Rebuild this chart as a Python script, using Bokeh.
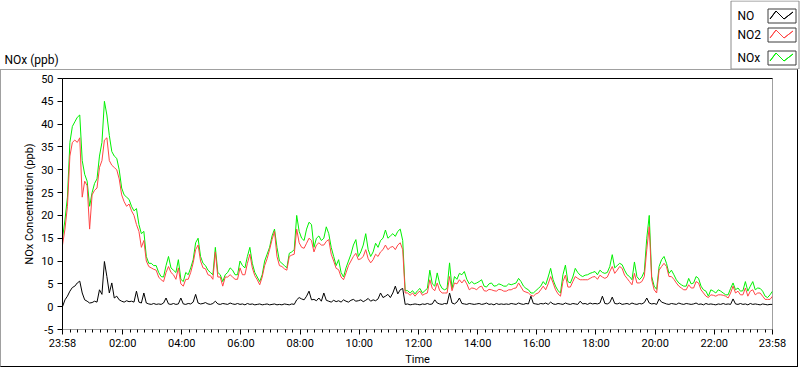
from bokeh.plotting import figure
from bokeh.layouts import column
from bokeh.models import (FixedTicker, Label, PolyAnnotation, LinearAxis, Range1d)
from bokeh.embed import file_html
from bokeh.resources import INLINE

# ---------------- data (5-minute samples starting 23:58) ----------------
start_clock = "23:58"
step_min = 5

nox = [
    15, 19, 24, 36, 39.5, 40.5, 41.5, 42, 32, 29, 27.5, 22,
    25, 27, 28, 33, 36, 45, 42, 37.5, 34, 33, 32.5, 30,
    26, 24.5, 24, 23.5, 22, 21, 21.5, 18, 16, 16.5, 11, 9.5,
    9.5, 9, 9, 7.5, 6.6, 6.5, 9, 11, 8.5, 8, 7.5, 10.3,
    6, 5.5, 7.5, 7, 8.5, 10.3, 14, 15, 11, 9.5, 9, 8,
    7.5, 7, 13, 7.5, 7, 5.5, 7, 7.5, 8.5, 8, 7, 7,
    10, 9, 8.5, 11, 13, 9.5, 7.5, 6.5, 5.5, 7, 10, 11.5,
    13, 15.5, 17, 13, 10, 9.5, 9, 8.5, 11.7, 12, 12.5, 20,
    16.5, 15, 14.5, 17, 18.5, 18, 13, 15, 15.5, 14.5, 15, 17.5,
    16, 13, 11, 9, 10.3, 7.5, 6.5, 8.5, 10, 11.5, 13.5, 14.7,
    11, 12, 13.5, 16, 12.5, 11, 12, 13.9, 13, 14.5, 15, 16.8,
    15, 15.5, 16, 15.4, 16.5, 17, 14.5, 3.5, 3.5, 3, 3.5, 2.8,
    3.5, 4, 3, 3.5, 4, 8, 5, 4.5, 7.4, 5, 4, 3.7,
    4, 9.6, 4, 6.6, 6, 7.3, 7, 7.7, 6, 5, 5.5, 5,
    5.2, 5.5, 5.9, 4.5, 4.3, 5, 5.2, 4.5, 4.6, 5, 4.8, 4.5,
    4.5, 5, 4.8, 5, 5.2, 6.2, 5.5, 4.5, 4, 3.7, 3, 3,
    3.5, 4, 4.5, 5.5, 4.8, 6.5, 8.4, 5.9, 4.5, 3.5, 3, 7,
    9.1, 5.5, 5.2, 6.5, 8.4, 7.5, 6.9, 6.6, 6.9, 7, 7.3, 7.5,
    7.7, 7, 8, 7.5, 7.3, 7.5, 8.8, 11.4, 8.5, 9, 9.5, 9.2,
    8, 7, 6.6, 5.9, 9.8, 6.6, 5.9, 6.5, 7.7, 15, 20, 6.6,
    4.5, 3.8, 8.8, 10.3, 11, 9.5, 7.3, 8, 7, 5.9, 5.2, 4.8,
    4.5, 4.5, 6.2, 5, 5.2, 6.6, 6.2, 4.5, 3.7, 3.4, 2.3, 3.7,
    3.4, 3, 3.7, 3.4, 3, 2.6, 2.6, 4, 5.2, 3.7, 4.1, 3.4,
    3.5, 5.5, 3.4, 4.5, 5.5, 3.7, 4.1, 4, 3.4, 2.3, 2, 2.6,
    3.4,
]

no2 = [
    13.5, 17, 22, 33, 36, 36.5, 36, 37, 24, 27.5, 26.5, 17,
    24.5, 25.5, 26, 30.5, 32, 36.5, 37, 32, 31, 30.5, 30, 28,
    24.5, 23, 22, 22.5, 21, 20, 18, 16.5, 13, 14.5, 10, 8.8,
    8.5, 8.2, 8, 6.5, 5.9, 5.5, 7.5, 8.8, 7.5, 7, 6, 8.5,
    5, 4.5, 6, 6, 7.5, 9.6, 12.5, 13.5, 10, 8.5, 8.3, 7,
    6.8, 6, 12, 6.5, 6.5, 4.5, 6.5, 6.5, 7, 6.5, 6, 6,
    8.5, 7, 7, 9.5, 11.5, 8.5, 6.8, 5.9, 4.8, 6.5, 9, 10.5,
    12.5, 14.7, 16.5, 11, 9, 8.8, 8.3, 8, 11, 11.3, 11.5, 17,
    14, 13, 12.8, 13.9, 15, 14.5, 12, 13.5, 14, 13.5, 13.5, 14.3,
    14.7, 11.5, 10, 8.4, 8.1, 6.5, 5.9, 7.4, 9, 10, 11, 11.7,
    10.3, 10.5, 11, 12.5, 10.5, 9.6, 10.3, 11.5, 11, 12, 12.5, 13.5,
    12.5, 13, 13.2, 12.5, 13.5, 14, 12.5, 3, 3, 2.5, 3, 2.3,
    3, 3.4, 2.5, 2.8, 3, 5.9, 4, 3.5, 5.2, 3.5, 3, 3,
    3, 6.6, 3.5, 5.2, 5, 5.9, 5.2, 5.9, 5, 3.7, 4.1, 4,
    3.7, 4.3, 4.5, 3.5, 3.4, 3.8, 3.7, 3.5, 3.4, 3.8, 3.7, 3.4,
    3.4, 3.7, 3.7, 4, 4.1, 5.2, 4.3, 3.4, 3.2, 3, 2.5, 2.3,
    2.8, 3, 3.7, 4.5, 3.7, 5, 6.6, 5.2, 3.7, 2.8, 2.3, 5.5,
    6.9, 4.3, 4.3, 5.5, 6.6, 6.2, 5.9, 5.9, 5.9, 5.9, 6.2, 6.5,
    6.6, 6, 6.9, 6.5, 6.2, 6.5, 7.7, 8.8, 7.3, 8, 8.8, 8.4,
    6.9, 6.2, 5.5, 4.8, 7.3, 5.2, 5.2, 5.5, 6.6, 12.5, 17.5, 5.9,
    3.7, 3, 8, 8.8, 9.5, 8.8, 6.6, 6.6, 6, 5.2, 4.5, 4.1,
    3.7, 3.7, 4.8, 4.1, 4.1, 5.5, 5.2, 3.7, 3, 2.3, 2, 2.6,
    2.5, 2.3, 2.6, 2.6, 2.5, 2.3, 1.9, 3, 4.5, 3, 3.4, 2.6,
    2.6, 4.1, 2.3, 3.4, 3.7, 2.6, 3, 3, 2.3, 1.6, 1.6, 1.6,
    2.3,
]

no = [
    0.0, 1.5, 2.3, 3.4, 4.2, 4.5, 5.2, 5.6, 3.0, 1.5, 1.2, 0.8,
    0.9, 1.2, 1.0, 3.7, 2.7, 9.9, 6.6, 3.0, 5.2, 1.9, 2.3, 1.5,
    1.2, 1.0, 1.3, 1.1, 1.2, 1.0, 3.4, 1.0, 0.8, 3.0, 0.8, 0.6,
    0.5, 0.7, 0.5, 0.6, 0.5, 0.8, 1.9, 0.6, 0.5, 0.7, 0.5, 0.6,
    1.9, 0.6, 0.5, 0.7, 0.6, 1.0, 2.7, 0.8, 0.6, 0.7, 0.9, 0.6,
    0.5, 0.7, 1.2, 0.6, 0.5, 0.7, 0.6, 0.5, 0.8, 0.6, 0.5, 0.7,
    0.5, 0.6, 0.4, 0.7, 0.5, 0.6, 0.4, 0.5, 0.6, 0.4, 0.5, 0.6,
    0.4, 0.5, 0.6, 0.4, 0.5, 0.4, 0.6, 0.5, 0.4, 0.6, 0.5, 1.5,
    2.0, 1.7, 1.5, 2.3, 3.4, 1.5, 1.6, 1.3, 1.9, 1.2, 3.0, 1.4,
    1.2, 1.0, 1.4, 1.1, 1.3, 1.0, 1.5, 1.2, 1.0, 1.4, 1.6, 1.2,
    1.3, 1.5, 1.1, 1.4, 1.8, 1.2, 1.5, 1.3, 1.7, 3.0, 2.0, 2.3,
    2.7, 2.0, 3.0, 4.5, 2.8, 3.7, 4.0, 0.5, 0.6, 0.4, 0.5, 0.6,
    0.5, 0.4, 0.6, 0.5, 0.7, 0.5, 0.6, 1.5, 0.8, 0.6, 0.5, 0.7,
    0.6, 3.0, 0.8, 0.6, 1.0, 1.9, 0.7, 0.6, 0.5, 0.7, 0.6, 0.5,
    0.6, 0.7, 0.5, 0.6, 0.8, 0.5, 0.6, 0.4, 0.7, 0.5, 0.6, 0.5,
    0.6, 0.5, 0.7, 0.6, 0.5, 0.8, 0.6, 0.5, 0.7, 0.6, 2.3, 0.7,
    0.6, 0.5, 0.7, 0.6, 0.8, 0.5, 1.0, 0.6, 0.5, 0.7, 0.6, 0.5,
    0.8, 0.6, 0.5, 0.7, 0.6, 0.5, 1.2, 0.6, 0.7, 0.5, 0.8, 0.6,
    0.7, 0.6, 0.8, 2.3, 0.7, 0.6, 0.9, 2.1, 0.7, 0.6, 0.8, 0.5,
    0.6, 0.7, 0.5, 0.8, 0.6, 0.5, 0.7, 0.6, 0.9, 1.9, 0.8, 0.6,
    0.7, 0.5, 1.7, 1.0, 0.8, 0.6, 0.5, 0.7, 0.6, 0.5, 0.8, 0.6,
    0.5, 0.7, 0.6, 0.5, 0.6, 0.8, 0.5, 0.6, 0.4, 0.7, 0.5, 0.6,
    0.5, 0.4, 0.6, 0.5, 0.7, 0.5, 0.6, 0.5, 1.7, 0.6, 0.5, 0.7,
    0.5, 0.6, 0.4, 0.7, 0.5, 0.6, 0.5, 0.4, 0.6, 0.5, 0.4, 0.5,
    0.5,
]

time_min = [i * step_min for i in range(len(nox))]

x_tick_labels = ["23:58", "02:00", "04:00", "06:00", "08:00", "10:00", "12:00",
                 "14:00", "16:00", "18:00", "20:00", "22:00", "23:58"]
y_tick_values = [-5, 0, 5, 10, 15, 20, 25, 30, 35, 40, 45, 50]

series_names = ["NO", "NO2", "NOx"]
series_colors = ["#000000", "#ff4545", "#00f000"]

# ---------------- ticks ----------------
def clock_offset(s):
    h, m = map(int, s.split(":"))
    sh, sm = map(int, start_clock.split(":"))
    return ((h * 60 + m) - (sh * 60 + sm)) % 1440

x_ticks = [clock_offset(s) for s in x_tick_labels]
x_ticks[-1] = 1440
x_minor = []
for a, b in zip(x_ticks[:-1], x_ticks[1:]):
    x_minor += [a + (b - a) * j / 8 for j in range(1, 8)]

FONT = "Roboto"
LIGHT = "#a0a0a0"

# ---------------- header: title + legend ----------------
HW, HH = 800, 69
header = figure(width=HW, height=HH, output_backend="svg", toolbar_location=None,
                x_range=Range1d(0, HW), y_range=Range1d(HH, 0),
                x_axis_location=None, y_axis_location=None, min_border=0)
header.frame_align = False
header.outline_line_color = None
header.grid.visible = False
header.background_fill_color = "white"
header.border_fill_color = "white"

header.add_layout(Label(x=4, y=59, text="NOx (ppb)", text_font=FONT,
                        text_font_size="12px", text_baseline="middle",
                        text_color="black"))

def rect_annotation(l, t, r, b, line_color):
    return PolyAnnotation(xs=[l, r, r, l], ys=[t, t, b, b], fill_color="white",
                          fill_alpha=1, line_color=line_color, line_alpha=1,
                          line_width=1)

header.add_layout(rect_annotation(730.5, 0.5, 798.5, 68.5, "#8c8c8c"))
row_tops = [8, 27, 50]
for name, color, rt in zip(series_names, series_colors, row_tops):
    header.add_layout(Label(x=737, y=rt + 7, text=name, text_font=FONT,
                            text_font_size="12px", text_baseline="middle",
                            text_color="black"))
    bl, br, bt, bb = 767.5, 795.5, rt + 0.5, rt + 14.5
    header.add_layout(rect_annotation(bl, bt, br, bb, "#3c3c3c"))
    zx = [bl + 2, bl + 8, bl + 16, bl + 25]
    zy = [bt + 10, bt + 2, bt + 10, bt + 3]
    header.add_layout(PolyAnnotation(xs=zx + zx[-2:0:-1], ys=zy + zy[-2:0:-1],
                                     fill_alpha=0, line_color=color, line_alpha=1,
                                     line_width=1))

# ---------------- main chart ----------------
W, H = 798, 298
p = figure(width=W, height=H, output_backend="svg", toolbar_location=None,
           x_range=Range1d(0, 1440), y_range=Range1d(-5, 50),
           min_border_left=61, min_border_right=27, min_border_top=8,
           min_border_bottom=38, x_axis_label="Time",
           y_axis_label="NOx Concentration (ppb)")
p.frame_align = False
p.background_fill_color = "white"
p.border_fill_color = "white"
p.outline_line_color = LIGHT
p.grid.visible = False
p.styles = {"border-top": "1px solid " + LIGHT, "border-left": "1px solid " + LIGHT,
            "border-right": "1px solid #000000", "border-bottom": "1px solid #000000"}

p.line(time_min, nox, line_color=series_colors[2], line_width=1)
p.line(time_min, no2, line_color=series_colors[1], line_width=1)
p.line(time_min, no, line_color=series_colors[0], line_width=1)

xa = p.xaxis[0]
xa.ticker = FixedTicker(ticks=x_ticks, minor_ticks=x_minor)
xa.major_label_overrides = {t: s for t, s in zip(x_ticks, x_tick_labels)}
xa.axis_line_color = LIGHT
xa.major_tick_out = 5
xa.major_tick_in = 0
xa.minor_tick_out = 3
xa.minor_tick_in = 0
xa.major_tick_line_color = "black"
xa.minor_tick_line_color = "black"
xa.major_label_standoff = 2
xa.axis_label_standoff = 0

ya = p.yaxis[0]
ya.ticker = FixedTicker(ticks=y_tick_values)
ya.major_label_overrides = {v: str(v) for v in y_tick_values}
ya.axis_line_color = "black"
ya.major_tick_out = 5
ya.major_tick_in = 0
ya.minor_tick_line_color = None
ya.major_tick_line_color = "black"
ya.major_label_standoff = 4
ya.axis_label_standoff = 2

for ax in (xa, ya):
    ax.major_label_text_font = FONT
    ax.major_label_text_font_size = "11px"
    ax.major_label_text_color = "black"
    ax.axis_label_text_font = FONT
    ax.axis_label_text_font_size = "11px"
    ax.axis_label_text_font_style = "normal"
    ax.axis_label_text_color = "black"

top_axis = LinearAxis(axis_line_color="black", major_tick_line_color=None,
                      minor_tick_line_color=None, major_tick_out=0, minor_tick_out=0,
                      major_tick_in=0, minor_tick_in=0, major_label_standoff=0,
                      major_label_text_font_size="0px", major_label_text_color=None)
p.add_layout(top_axis, "above")

layout = column(header, p, spacing=0)
open("out.html", "w").write(file_html(layout, INLINE))
